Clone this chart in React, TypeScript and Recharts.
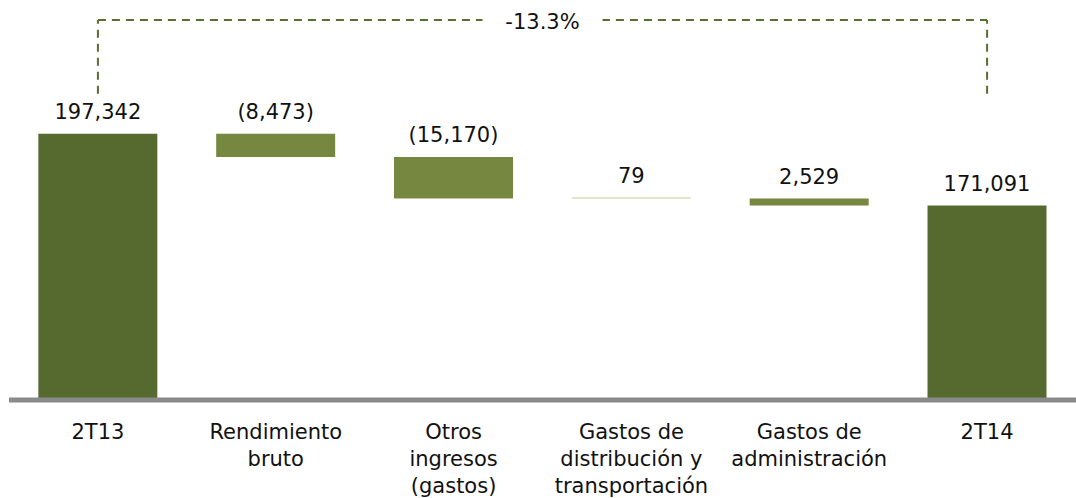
import { BarChart, Bar, XAxis, YAxis, Cell, LabelList, ReferenceLine } from "recharts";

// Puente 2T13 -> 2T14 (waterfall)
const categories = [
    "2T13",
    "Rendimiento\nbruto",
    "Otros\ningresos\n(gastos)",
    "Gastos de\ndistribución y\ntransportación",
    "Gastos de\nadministración",
    "2T14",
];
const startValue = 197342;
const changes = [-8473, -15170, -79, -2529];
const endValue = 171091;
const valueLabels = ["197,342", "(8,473)", "(15,170)", "79", "2,529", "171,091"];
const changeLabel = "-13.3%";

// eje recortado (no arranca en cero) y altura del corchete de variación
const yDomain = [100000, 240000];
const bracketTop = 238900;
const bracketBottom = 211900;

const colors = {
    total: "#566a30",
    delta: "#76883f",
    tiny: "#c4cc9e",
    axis: "#8a8a8a",
    bracket: "#5a6e30",
    text: "#111111",
};

type Row = { name: string; range: [number, number]; kind: string; label: string };

const data: Row[] = [];
let running = startValue;
data.push({ name: categories[0], range: [0, startValue], kind: "total", label: valueLabels[0] });
changes.forEach((c, i) => {
    const next = running + c;
    data.push({
        name: categories[i + 1],
        range: [Math.min(running, next), Math.max(running, next)],
        kind: Math.abs(c) < 500 ? "tiny" : "delta",
        label: valueLabels[i + 1],
    });
    running = next;
});
data.push({ name: categories[5], range: [0, endValue], kind: "total", label: valueLabels[5] });

const fontFamily = "'DejaVu Sans', sans-serif";
const fontSize = 21;

const CategoryTick = (props: any) => {
    const { x, y, payload } = props;
    const lines = String(payload.value).split("\n");
    return (
        <text x={x} y={y} textAnchor="middle" fill={colors.text} fontSize={fontSize} fontFamily={fontFamily}>
            {lines.map((line, i) => (
                <tspan key={i} x={x} dy={i === 0 ? 39 : 27}>
                    {line}
                </tspan>
            ))}
        </text>
    );
};

const ValueLabel = (props: any) => {
    const { x, y, width, value } = props;
    return (
        <text
            x={x + width / 2}
            y={y - 15}
            textAnchor="middle"
            fill={colors.text}
            fontSize={fontSize}
            fontFamily={fontFamily}
        >
            {value}
        </text>
    );
};

const BracketLabel = (props: any) => {
    const { viewBox } = props;
    const cx = viewBox.x + viewBox.width / 2;
    const cy = viewBox.y;
    return (
        <g>
            <rect x={cx - 60} y={cy - 12} width={120} height={24} fill="#ffffff" />
            <text x={cx} y={cy + 9} textAnchor="middle" fill={colors.text} fontSize={fontSize} fontFamily={fontFamily}>
                {changeLabel}
            </text>
        </g>
    );
};

const App = () => {
    return (
        <div style={{ position: "absolute", left: 0, top: 0 }}>
            <BarChart
                width={1076}
                height={498}
                data={data}
                margin={{ top: 17, right: 0, left: 9, bottom: 0 }}
                barCategoryGap="16.5%"
            >
                <XAxis
                    dataKey="name"
                    height={98}
                    interval={0}
                    tickLine={false}
                    tickSize={0}
                    tickMargin={0}
                    axisLine={{ stroke: colors.axis, strokeWidth: 5 }}
                    tick={<CategoryTick />}
                />
                <YAxis hide domain={yDomain} allowDataOverflow />
                <Bar dataKey="range" isAnimationActive={false} minPointSize={1}>
                    {data.map((d, i) => (
                        <Cell
                            key={`cell-${i}`}
                            fill={d.kind === "total" ? colors.total : d.kind === "tiny" ? colors.tiny : colors.delta}
                        />
                    ))}
                    <LabelList dataKey="label" content={<ValueLabel />} />
                </Bar>
                <ReferenceLine
                    segment={[
                        { x: categories[0], y: bracketBottom },
                        { x: categories[0], y: bracketTop },
                    ]}
                    stroke={colors.bracket}
                    strokeWidth={2}
                    strokeDasharray="8 6"
                />
                <ReferenceLine
                    segment={[
                        { x: categories[5], y: bracketBottom },
                        { x: categories[5], y: bracketTop },
                    ]}
                    stroke={colors.bracket}
                    strokeWidth={2}
                    strokeDasharray="8 6"
                />
                <ReferenceLine
                    segment={[
                        { x: categories[0], y: bracketTop },
                        { x: categories[5], y: bracketTop },
                    ]}
                    stroke={colors.bracket}
                    strokeWidth={2}
                    strokeDasharray="8 6"
                    label={<BracketLabel />}
                />
            </BarChart>
        </div>
    );
};

export default App;
